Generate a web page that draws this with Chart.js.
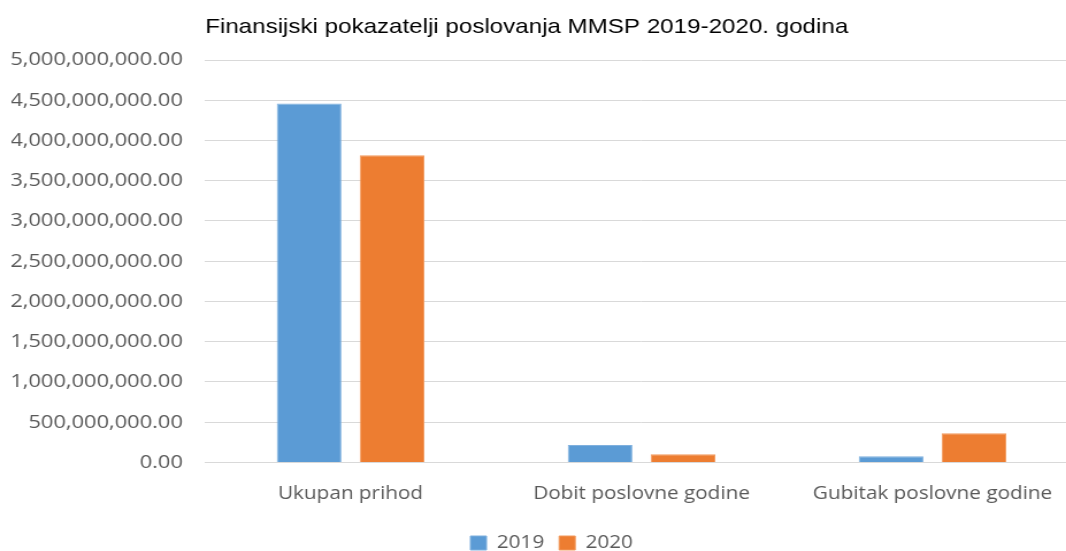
<!DOCTYPE html>
<html>
<head>
<meta charset="utf-8">
<script src="https://cdn.jsdelivr.net/npm/chart.js@4/dist/chart.umd.min.js"></script>
<style>
  html, body { margin: 0; padding: 0; background: #fff; overflow: hidden; }
  /* the original picture is a bit stretched sideways */
  #wrap { width: 945px; height: 551px; transform: scaleX(1.15); transform-origin: 0 0; }
</style>
</head>
<body>
<div id="wrap"><canvas id="chart"></canvas></div>
<script>
// chart data
var categories = ["Ukupan prihod", "Dobit poslovne godine", "Gubitak poslovne godine"];
var series2019 = [4460000000, 216000000, 75000000];
var series2020 = [3815000000, 100000000, 362000000];
var seriesLabels = ["2019", "2020"];
var chartTitle = "Finansijski pokazatelji poslovanja MMSP 2019-2020. godina";

// title drawn at a fixed spot, like the original
var titlePlugin = {
  id: "fixedTitle",
  afterLayout: function(chart) {
    // nudge the legend a little to the right
    chart.legend.left += 6;
    chart.legend.right += 6;
  },
  afterDraw: function(chart) {
    var ctx = chart.ctx;
    ctx.save();
    ctx.font = "21px 'Liberation Sans', Arial, sans-serif";
    ctx.fillStyle = "#000";
    ctx.textAlign = "center";
    ctx.textBaseline = "alphabetic";
    ctx.fillText(chartTitle, 458, 33);
    ctx.restore();
  }
};

new Chart(document.getElementById("chart"), {
  type: "bar",
  data: {
    labels: categories,
    datasets: [{
      label: seriesLabels[0],
      data: series2019,
      backgroundColor: "#5B9BD5",
      borderColor: "#7FB0DE",
      borderWidth: 1,
      categoryPercentage: 0.57,
      barPercentage: 0.78
    }, {
      label: seriesLabels[1],
      data: series2020,
      backgroundColor: "#ED7D31",
      borderColor: "#F29A5E",
      borderWidth: 1,
      categoryPercentage: 0.57,
      barPercentage: 0.78
    }]
  },
  plugins: [titlePlugin],
  options: {
    responsive: true,
    maintainAspectRatio: false,
    animation: false,
    layout: { padding: { top: 60, left: 10, right: 7.6, bottom: -11 } },
    plugins: {
      title: { display: false },
      tooltip: { enabled: false },
      legend: {
        position: "bottom",
        labels: {
          font: { family: "'Open Sans'", size: 18 },
          color: "#595959",
          boxWidth: 14,
          boxHeight: 14,
          padding: 13
        }
      }
    },
    scales: {
      x: {
        grid: { display: false },
        border: { color: "#D9D9D9" },
        afterFit: function(scale) { scale.height += 3; },
        ticks: {
          font: { family: "'Open Sans'", size: 18 },
          color: "#595959",
          padding: 13
        }
      },
      y: {
        min: 0,
        max: 5000000000,
        border: { display: false },
        grid: { color: "#D9D9D9", drawTicks: false },
        afterFit: function(scale) { scale.width = 168.3; },
        ticks: {
          stepSize: 500000000,
          font: { family: "'Open Sans'", size: 19 },
          color: "#595959",
          padding: 19.3,
          callback: function(v) {
            return Number(v).toLocaleString("en-US", { minimumFractionDigits: 2, maximumFractionDigits: 2 });
          }
        }
      }
    }
  }
});
</script>
</body>
</html>
